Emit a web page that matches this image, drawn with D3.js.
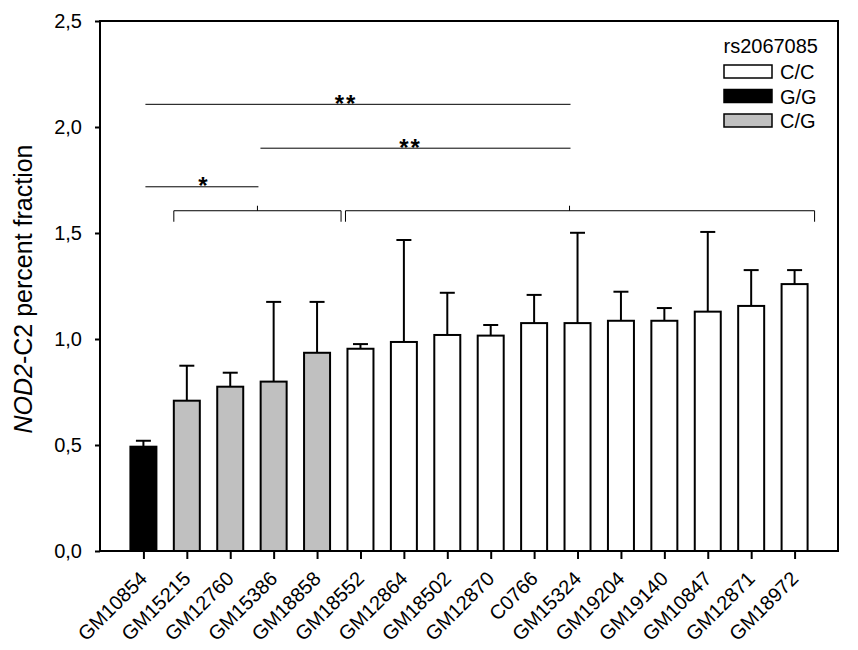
<!DOCTYPE html>
<html>
<head>
<meta charset="utf-8">
<script src="https://cdn.jsdelivr.net/npm/d3@7"></script>
<style>
  body { margin: 0; background: #fff; }
  svg { font-family: "Liberation Sans", Arial, sans-serif; }
</style>
</head>
<body>
<svg id="chart" width="858" height="650"></svg>
<script>
// cell lines, genotype, mean and top of error bar
const lines = ["GM10854", "GM15215", "GM12760", "GM15386", "GM18858", "GM18552", "GM12864", "GM18502",
  "GM12870", "C0766", "GM15324", "GM19204", "GM19140", "GM10847", "GM12871", "GM18972"];
const genotype = ["G/G", "C/G", "C/G", "C/G", "C/G", "C/C", "C/C", "C/C",
  "C/C", "C/C", "C/C", "C/C", "C/C", "C/C", "C/C", "C/C"];
const means = [0.492, 0.709, 0.775, 0.799, 0.935, 0.954, 0.986, 1.019,
  1.016, 1.075, 1.075, 1.086, 1.086, 1.129, 1.156, 1.259];
const errTop = [0.52, 0.874, 0.841, 1.175, 1.175, 0.976, 1.467, 1.218,
  1.066, 1.208, 1.501, 1.223, 1.146, 1.505, 1.325, 1.325];
const yTicks = [0, 0.5, 1.0, 1.5, 2.0, 2.5];
const legendKeys = ["C/C", "G/G", "C/G"];
const fills = { "C/C": "#ffffff", "G/G": "#000000", "C/G": "#c0c0c0" };

// grouping brackets (cell lines at each end, level on the y scale)
const brackets = [
  { from: "GM15215", to: "GM18858", level: 1.605 },
  { from: "GM18552", to: "GM18972", level: 1.605 }
];
// significance lines
const sigs = [
  { level: 2.107, label: "**" },
  { level: 1.90, label: "**" },
  { level: 1.718, label: "*" }
];

const svg = d3.select("#chart");
const mLeft = 100, mRight = 838, mTop = 21, mBottom = 551;

const x = d3.scalePoint().domain(lines).range([mLeft, mRight]).padding(1);
const y = d3.scaleLinear().domain([0, 2.5]).range([mBottom, mTop]);
const barW = 26;

// bars
svg.append("g").selectAll("rect")
  .data(lines)
  .enter().append("rect")
    .attr("x", d => x(d) - barW / 2)
    .attr("y", (d, i) => y(means[i]))
    .attr("width", barW)
    .attr("height", (d, i) => y(0) - y(means[i]))
    .attr("fill", (d, i) => fills[genotype[i]])
    .attr("stroke", "#000")
    .attr("stroke-width", 2);

// error bars
const eb = svg.append("g").attr("stroke", "#000").attr("stroke-width", 2);
lines.forEach((d, i) => {
  eb.append("line")
    .attr("x1", x(d)).attr("x2", x(d))
    .attr("y1", y(means[i])).attr("y2", y(errTop[i]));
  eb.append("line")
    .attr("x1", x(d) - 7.5).attr("x2", x(d) + 7.5)
    .attr("y1", y(errTop[i])).attr("y2", y(errTop[i]));
});

// frame
svg.append("rect")
  .attr("x", mLeft).attr("y", mTop)
  .attr("width", mRight - mLeft).attr("height", mBottom - mTop)
  .attr("fill", "none").attr("stroke", "#000").attr("stroke-width", 2);

// y axis
const yAxis = svg.append("g")
  .attr("transform", `translate(${mLeft},0)`)
  .call(d3.axisLeft(y).tickValues(yTicks).tickSize(5).tickPadding(13)
    .tickFormat(d => d3.format(".1f")(d).replace(".", ",")));
yAxis.select(".domain").remove();
yAxis.selectAll("line").attr("stroke-width", 2);
yAxis.selectAll("text").attr("font-size", 20).attr("font-family", "Liberation Sans, Arial, sans-serif").attr("fill", "#000");

// x axis
const xAxis = svg.append("g")
  .attr("transform", `translate(0,${mBottom})`)
  .call(d3.axisBottom(x).tickSize(8).tickFormat(""));
xAxis.select(".domain").remove();
xAxis.selectAll("line").attr("stroke-width", 2);

svg.append("g").selectAll("text")
  .data(lines)
  .enter().append("text")
    .attr("transform", d => `translate(${x(d) + 5},${mBottom + 29}) rotate(-45)`)
    .attr("text-anchor", "end")
    .attr("font-size", 20)
    .text(d => d);

// y label
const ylab = svg.append("text")
  .attr("transform", `translate(32,289) rotate(-90)`)
  .attr("text-anchor", "middle")
  .attr("font-size", 25);
ylab.append("tspan").attr("font-style", "italic").text("NOD2");
ylab.append("tspan").text("-C2 percent fraction");

// brackets
const sg = svg.append("g").attr("stroke", "#000").attr("stroke-width", 1).attr("fill", "none");
const bPos = brackets.map((b, i) => {
  const yy = y(b.level);
  const x1 = x(b.from) - (i === 0 ? 13 : 15);
  const x2 = x(b.to) + (i === 0 ? 24 : 20);
  const mid = i === 0 ? (x1 + x2) / 2 : x("GM15324") - 8;
  sg.append("path").attr("d", `M${x1},${yy + 11}V${yy}H${x2}V${yy + 11}`);
  sg.append("path").attr("d", `M${mid},${yy - 5}V${yy}`);
  return { x1, x2, mid, yy };
});

// significance lines joining the brackets
const sigEnds = [
  [x(lines[0]) + 2, bPos[1].mid + 1],
  [bPos[0].mid + 3, bPos[1].mid + 1],
  [x(lines[0]) + 2, bPos[0].mid + 1]
];
const starShift = [-12, -5, 2];
sigs.forEach((s, i) => {
  const [x1, x2] = sigEnds[i];
  const yy = y(s.level);
  sg.append("path").attr("d", `M${x1},${yy}H${x2}`);
  svg.append("text")
    .attr("x", (x1 + x2) / 2 + starShift[i]).attr("y", yy + 7.5)
    .attr("text-anchor", "middle")
    .attr("font-size", 24).attr("font-weight", "bold")
    .attr("letter-spacing", 2)
    .text(s.label);
});

// legend
const lg = svg.append("g");
lg.append("text").attr("x", 818).attr("y", 53)
  .attr("text-anchor", "end").attr("font-size", 20).text("rs2067085");
legendKeys.forEach((k, i) => {
  const yy = 65 + i * 24.5;
  lg.append("rect")
    .attr("x", 724).attr("y", yy).attr("width", 48).attr("height", 13)
    .attr("fill", fills[k]).attr("stroke", "#000").attr("stroke-width", 1.5);
  lg.append("text")
    .attr("x", 780).attr("y", yy + 14)
    .attr("font-size", 20).text(k);
});
</script>
</body>
</html>
